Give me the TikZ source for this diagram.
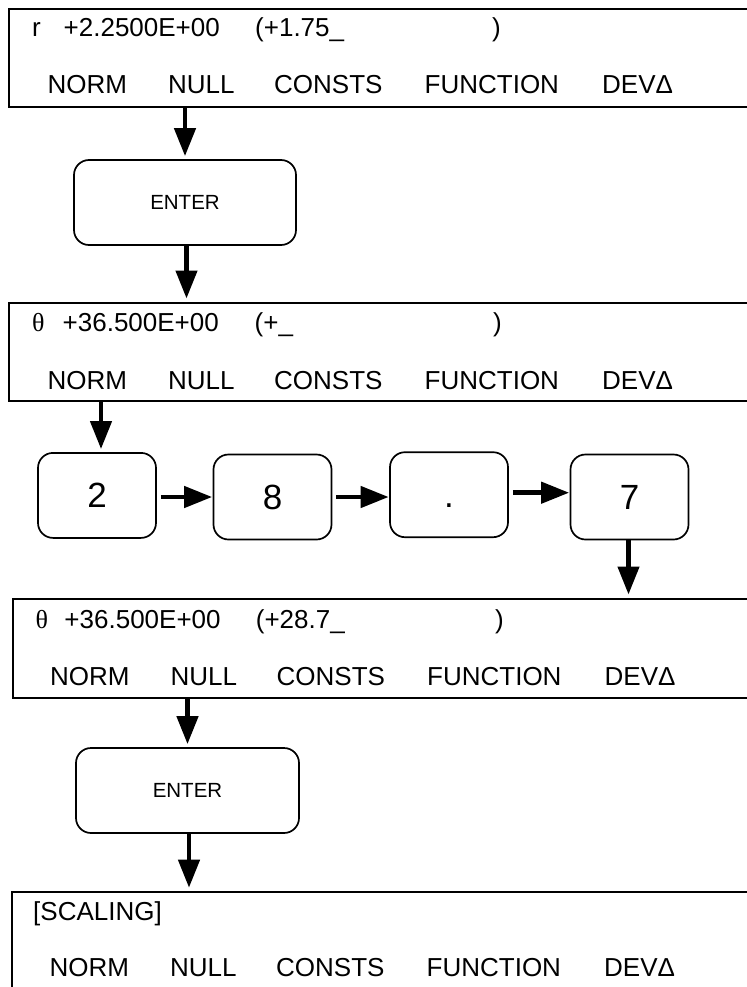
\documentclass[tikz,border=0pt]{standalone}
\usepackage{fontspec}
\setmainfont{Liberation Sans}
\newfontfamily\grkfont{Liberation Serif}
\usetikzlibrary{arrows.meta}

\newcommand\dispfont{\fontsize{26bp}{31bp}\selectfont}
\newcommand\keyfont{\fontsize{35bp}{42bp}\selectfont}
\newcommand\enterfont{\fontsize{20.5bp}{24bp}\selectfont}
\newcommand\softrow{NORM/47.5,NULL/168,CONSTS/274,FUNCTION/424.5,DEVΔ/602}

\begin{document}
\begin{tikzpicture}[x=1bp, y=-1bp,
  display/.style={draw, line width=2bp, anchor=north west, minimum width=760bp, inner sep=0pt},
  txt/.style={anchor=base west, inner sep=0pt, font=\dispfont},
  keybox/.style={draw, line width=1.7bp, rounded corners=15bp, minimum width=118bp, minimum height=85bp, inner sep=0pt},
  numkey/.style={keybox, font=\keyfont, text height=25bp, text depth=0pt},
  enterkey/.style={keybox, font=\enterfont, minimum width=222bp},
  flow/.style={line width=4.5bp, -{Triangle[length=28bp,width=21bp]}, shorten <=0bp, shorten >=3bp},
  sideflow/.style={flow, shorten <=4bp, shorten >=0.5bp}]
  \useasboundingbox (0,0) rectangle (747,987);
  \clip (0,0) rectangle (747,987);

  % display: r entry
  \node[display, minimum height=98bp] (disp1) at (8,7.5) {};
  \node[txt] (d1sym) at (32,36.5) {r};
  \node[txt] (d1val) at (63.5,36.5) {+2.2500E+00};
  \node[txt] (d1in) at (255,36.5) {(+1.75\_};
  \node[txt] (d1end) at (492,36.5) {)};
  \foreach \lab/\xx [count=\i] in \softrow
    \node[txt] (d1k\i) at (\xx,93) {\lab};

  % ENTER
  \node[enterkey] (enter1) at (185,202.5) {ENTER};

  % display: theta empty
  \node[display, minimum height=98.5bp] (disp2) at (8,301.5) {};
  \node[txt] (d2sym) at (32,331) {\grkfont θ};
  \node[txt] (d2val) at (62.5,331) {+36.500E+00};
  \node[txt] (d2in) at (254.5,331) {(+\_};
  \node[txt] (d2end) at (493,331) {)};
  \foreach \lab/\xx [count=\i] in \softrow
    \node[txt] (d2k\i) at (\xx,389.5) {\lab};

  % number keys
  \node[numkey] (k2) at (97,495.4) {2};
  \node[numkey] (k8) at (272.5,497) {8};
  \node[numkey] (kdot) at (449,494.7) {.};
  \node[numkey] (k7) at (629.5,497) {7};

  % display: theta typed
  \node[display, minimum height=99bp] (disp3) at (12,597.5) {};
  \node[txt] (d3sym) at (35.5,628) {\grkfont θ};
  \node[txt] (d3val) at (64.3,628) {+36.500E+00};
  \node[txt] (d3in) at (255.7,628) {(+28.7\_};
  \node[txt] (d3end) at (495,628) {)};
  \foreach \lab/\xx [count=\i] in \softrow
    \node[txt] (d3k\i) at ({\xx+2.5},685) {\lab};

  % ENTER again
  \node[enterkey, minimum width=223bp] (enter2) at (187.5,790.5) {ENTER};

  % display: scaling menu
  \node[display, minimum height=130bp] (disp4) at (10.5,890.7) {};
  \node[txt] (d4title) at (33,920) {[SCALING]};
  \foreach \lab/\xx [count=\i] in \softrow
    \node[txt] (d4k\i) at ({\xx+2},976.7) {\lab};

  % arrows
  \draw[flow] (disp1.south -| enter1.north) -- (enter1.north);
  \draw[flow] ([xshift=1.5bp]enter1.south) -- ([xshift=1.5bp]enter1.south |- disp2.north);
  \draw[flow] ([xshift=4bp]k2.north |- disp2.south) -- ([xshift=4bp]k2.north);
  \draw[sideflow] (k2.east |- k8) -- (k8.west);
  \draw[sideflow] (k8.east) -- (k8.east -| kdot.west);
  \draw[sideflow] ([yshift=2bp]kdot.east) -- ([yshift=2bp]kdot.east -| k7.west);
  \draw[flow] ([xshift=-1bp]k7.south) -- ([xshift=-1bp]k7.south |- disp3.north);
  \draw[flow] (disp3.south -| enter2.north) -- (enter2.north);
  \draw[flow] ([xshift=1.5bp]enter2.south) -- ([xshift=1.5bp]enter2.south |- disp4.north);
\end{tikzpicture}
\end{document}
